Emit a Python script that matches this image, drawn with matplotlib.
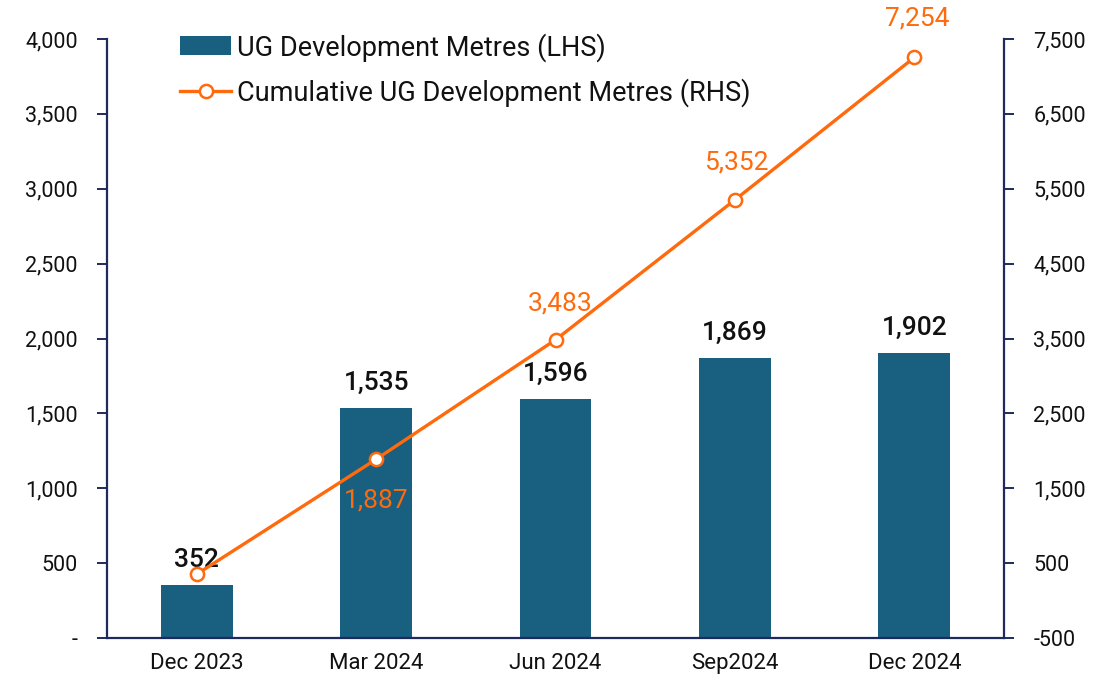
import matplotlib
matplotlib.use("Agg")
import matplotlib.pyplot as plt
from matplotlib.ticker import FuncFormatter

categories = ["Dec 2023", "Mar 2024", "Jun 2024", "Sep2024", "Dec 2024"]
metres = [352, 1535, 1596, 1869, 1902]
cumulative = [352, 1887, 3483, 5352, 7254]

BAR = "#185F80"
ORANGE = "#FF6A0D"
SPINE = "#1F2A5C"
FONT = ["Roboto", "DejaVu Sans"]

plt.rcParams['font.family'] = FONT

fig = plt.figure(figsize=(11.07, 6.8), dpi=100)
ax = fig.add_axes([0.0967, 0.0618, 0.8103, 0.8808])
ax2 = ax.twinx()

x = list(range(len(categories)))
bars = ax.bar(x, metres, width=0.4, color=BAR, label="UG Development Metres (LHS)", zorder=2)
line, = ax2.plot(x, cumulative, color=ORANGE, lw=2.4, marker="o", ms=9.5,
                 mfc="white", mec=ORANGE, mew=1.8, label="Cumulative UG Development Metres (RHS)", zorder=3)

ax.set_xlim(-0.5, 4.5)
ax.set_ylim(0, 4000)
ax.set_yticks(range(0, 4001, 500))
ax.yaxis.set_major_formatter(FuncFormatter(lambda v, p: "-" if v == 0 else f"{int(v):,}"))
ax2.set_ylim(-500, 7500)
ax2.set_yticks(range(-500, 7501, 1000))
ax2.yaxis.set_major_formatter(FuncFormatter(lambda v, p: f"{int(v):,}"))

ax.set_xticks(x)
ax.set_xticklabels(categories)

for a in (ax, ax2):
    for s in a.spines.values():
        s.set_visible(False)
ax.spines['left'].set_visible(True)
ax.spines['bottom'].set_visible(True)
ax2.spines['right'].set_visible(True)
for s in (ax.spines['left'], ax.spines['bottom'], ax2.spines['right']):
    s.set_color(SPINE)
    s.set_linewidth(1.6)

ax.tick_params(axis='y', length=7, width=1.4, color=SPINE, labelsize=15.5, pad=14, labelcolor="#111111")
ax.tick_params(axis='x', length=0, labelsize=16, pad=11, labelcolor="#111111")
ax2.tick_params(axis='y', length=7, width=1.4, color=SPINE, labelsize=15.5, pad=14, labelcolor="#111111")

# Bar labels
for xi, v in zip(x, metres):
    ax.text(xi, v + 90, f"{v:,}", ha="center", va="bottom", fontsize=19,
            fontweight="medium", color="#111111", zorder=4)

# Line labels (first point shares label with bar)
offsets = {1: (0, -30), 2: (3, 26), 3: (1, 27), 4: (2, 28)}
for i, (dx, dy) in offsets.items():
    ax2.annotate(f"{cumulative[i]:,}", (x[i], cumulative[i]), xytext=(dx, dy),
                 textcoords="offset points", ha="center",
                 va="center", fontsize=19, color=ORANGE, zorder=4)

handles = [bars, line]
leg = ax.legend(handles, [h.get_label() for h in handles], loc="upper left",
                bbox_to_anchor=(180 / 1107, 1 - 33 / 680), bbox_transform=fig.transFigure,
                frameon=False, fontsize=19.5, borderpad=0, borderaxespad=0,
                handlelength=1.9, handletextpad=0.2, labelspacing=0.62)
for t in leg.get_texts():
    t.set_color("#111111")

fig.savefig("out.png", dpi=100)
